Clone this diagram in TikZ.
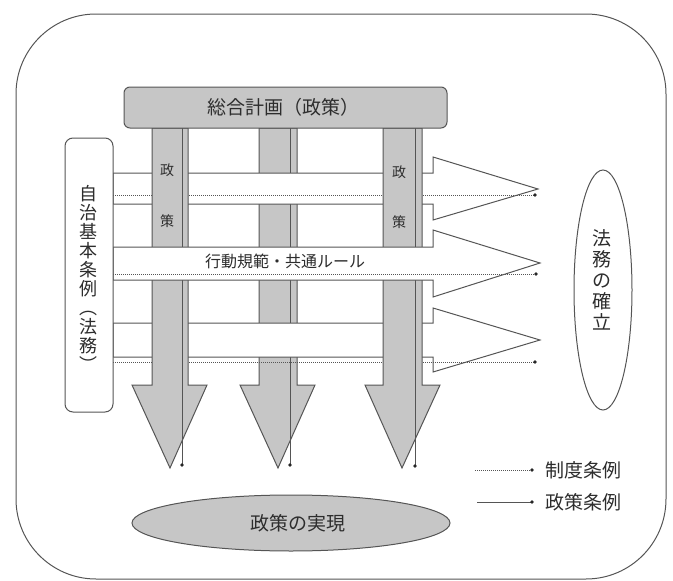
\documentclass[tikz,border=0pt]{standalone}
\usepackage{fontspec}
\setmainfont{Noto Sans CJK JP}
\definecolor{cfill}{RGB}{198,198,198}
\definecolor{cline}{RGB}{85,85,85}
\definecolor{ctext}{RGB}{45,45,45}
\begin{document}
\begin{tikzpicture}[x=1pt,y=-1pt,
  shp/.style={draw=cline, line width=1pt, line join=miter},
  gshp/.style={shp, fill=cfill},
  wshp/.style={shp, fill=white},
  dotl/.style={draw=cline, line width=0.8pt, dash pattern=on 1pt off 1pt},
  soll/.style={draw=cline, line width=1pt},
  enddot/.style={circle, fill=black!85, inner sep=0pt, minimum size=3.6pt},
  lbl/.style={text=ctext, inner sep=0pt},
  vlbl/.style={lbl, align=center},
]
\useasboundingbox (0,0) rectangle (673,581);
% outer frame
\draw[shp, rounded corners=80pt] (16,14) rectangle (666,579);

% column 2 (below bands A and C)
\draw[gshp] (259,128) -- (259,385) -- (240,385) -- (278,468) -- (315,385) -- (297,385) -- (297,128) -- cycle;
\coordinate (c2s) at (290,128); \coordinate (c2e) at (290,465);
\draw[soll] (c2s) -- (c2e); \node[enddot] at (c2e) {};

% band A
\draw[wshp] (113,173) -- (433,173) -- (433,157) -- (538,189) -- (433,220) -- (433,204) -- (113,204) -- cycle;
\coordinate (aS) at (113,195); \coordinate (aE) at (535,195);
\draw[dotl] (aS) -- (aE); \node[enddot] at (aE) {};
% band C
\draw[wshp] (113,323) -- (433,323) -- (433,308) -- (540,340) -- (433,372) -- (433,357) -- (113,357) -- cycle;
\coordinate (cS) at (113,362); \coordinate (cE) at (535,362);
\draw[dotl] (cS) -- (cE); \node[enddot] at (cE) {};

% column 1
\draw[gshp] (152,128) -- (152,385) -- (132,385) -- (170,468) -- (207,385) -- (188,385) -- (188,128) -- cycle;
\coordinate (c1s) at (182,128); \coordinate (c1e) at (182,465);
\draw[soll] (c1s) -- (c1e); \node[enddot] at (c1e) {};
\node[lbl, font=\fontsize{14}{14}\selectfont] (c1a) at (167,170) {政};
\node[lbl, font=\fontsize{14}{14}\selectfont] (c1b) at (167,221) {策};
% column 3
\draw[gshp] (383,128) -- (383,385) -- (365,385) -- (402,468) -- (440,385) -- (422,385) -- (422,128) -- cycle;
\coordinate (c3s) at (415,128); \coordinate (c3e) at (415,466);
\draw[soll] (c3s) -- (c3e); \node[enddot] at (c3e) {};
\node[lbl, font=\fontsize{14}{14}\selectfont] (c3a) at (399,172) {政};
\node[lbl, font=\fontsize{14}{14}\selectfont] (c3b) at (399,222) {策};

% band B (on top)
\draw[wshp] (113,247) -- (433,247) -- (433,230) -- (540,263) -- (433,297) -- (433,280) -- (113,280) -- cycle;
\coordinate (bS) at (113,274); \coordinate (bE) at (536,274);
\draw[dotl] (bS) -- (bE); \node[enddot] at (bE) {};
\node[lbl, font=\fontsize{16}{16}\selectfont] (rule) at (285,261) {行動規範・共通ルール};

% left box
\draw[wshp, rounded corners=8pt] (65,138) rectangle (113,412);
\node[vlbl, font=\fontsize{18}{19}\selectfont] (jichi) at (88,278) {自\\治\\基\\本\\条\\例\\︵\\法\\務\\︶};

% top box
\draw[gshp, rounded corners=6pt] (124,87) rectangle (447,128);
\node[lbl, font=\fontsize{19}{19}\selectfont] (sogo) at (283,107) {総合計画（政策）};

% right ellipse
\draw[wshp] (603,290) ellipse [x radius=29, y radius=120];
\node[vlbl, font=\fontsize{19}{21}\selectfont] (homu) at (602,280) {法\\務\\の\\確\\立};

% bottom ellipse
\draw[gshp] (291,523) ellipse [x radius=159, y radius=28];
\node[lbl, font=\fontsize{19}{19}\selectfont] (jitsu) at (298,523) {政策の実現};

% legend
\coordinate (l1s) at (475,470); \coordinate (l1e) at (532,470);
\draw[dotl] (l1s) -- (l1e); \node[enddot] at (l1e) {};
\node[lbl, anchor=west, font=\fontsize{19}{19}\selectfont] (seido) at (545,470) {制度条例};
\coordinate (l2s) at (477,502); \coordinate (l2e) at (532,502);
\draw[soll] (l2s) -- (l2e); \node[enddot] at (l2e) {};
\node[lbl, anchor=west, font=\fontsize{19}{19}\selectfont] (seisaku) at (545,502) {政策条例};
\end{tikzpicture}
\end{document}
